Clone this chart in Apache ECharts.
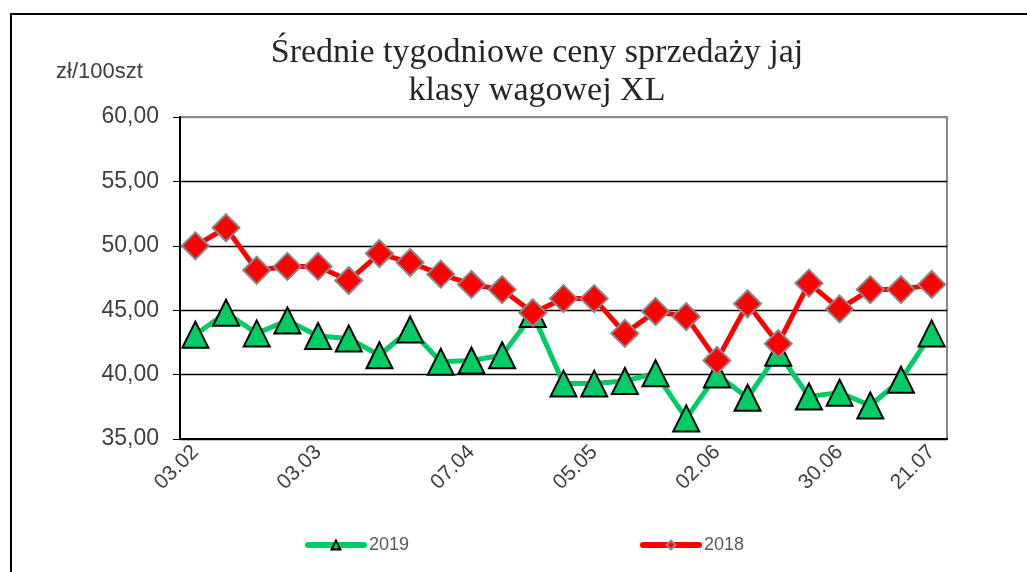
<!DOCTYPE html>
<html>
<head>
<meta charset="utf-8">
<script src="https://cdn.jsdelivr.net/npm/echarts@6/dist/echarts.min.js"></script>
<style>
  html, body { margin: 0; padding: 0; background: #fff; }
  #chart { width: 1027px; height: 572px; }
</style>
</head>
<body>
<div id="chart"></div>
<script>
// tygodnie (kategorie osi X)
var weeks = ['03.02', '10.02', '17.02', '24.02', '03.03', '10.03', '17.03', '24.03', '31.03',
  '07.04', '14.04', '21.04', '28.04', '05.05', '12.05', '19.05', '26.05', '02.06', '09.06',
  '16.06', '23.06', '30.06', '07.07', '14.07', '21.07'];
// które etykiety osi X są widoczne
var shownLabels = [0, 4, 9, 13, 17, 21, 24];

var prices2019 = [43.1, 44.8, 43.2, 44.2, 43.0, 42.8, 41.5, 43.5, 41.0, 41.1, 41.5, 44.7, 39.3,
  39.3, 39.5, 40.1, 36.6, 40.0, 38.2, 41.7, 38.3, 38.6, 37.6, 39.6, 43.2];
var prices2018 = [50.0, 51.4, 48.1, 48.4, 48.4, 47.3, 49.4, 48.7, 47.8, 47.0, 46.6, 44.8, 45.9,
  45.9, 43.2, 44.9, 44.5, 41.1, 45.5, 42.4, 47.1, 45.1, 46.6, 46.6, 47.0];

var chart = echarts.init(document.getElementById('chart'));

var legendText = { fontFamily: 'Liberation Sans', fontSize: 18, color: '#595959' };

var option = {
  animation: false,
  backgroundColor: '#fff',
  title: {
    text: 'Średnie tygodniowe ceny sprzedaży jaj\nklasy wagowej XL',
    left: 532,
    top: 29,
    textAlign: 'center',
    textStyle: {
      fontFamily: 'Liberation Serif',
      fontWeight: 'normal',
      fontSize: 34,
      lineHeight: 38,
      color: '#262626'
    }
  },
  graphic: [
    // ramka wykresu
    { type: 'polyline', shape: { points: [[11, 572], [11, 14], [1027, 14]] },
      style: { stroke: '#000', lineWidth: 2, fill: null } },
    { type: 'text', left: 56, top: 61,
      style: { text: 'zł/100szt', font: '22px "Liberation Sans"', fill: '#404040' } }
  ],
  legend: [
    {
      data: ['2019'], left: 305, top: 536, padding: 0,
      itemWidth: 56, itemHeight: 11, itemGap: 4,
      lineStyle: { width: 6, cap: 'round' },
      textStyle: legendText
    },
    {
      data: ['2018'], left: 640, top: 536, padding: 0,
      itemWidth: 56, itemHeight: 11, itemGap: 4,
      lineStyle: { width: 6, cap: 'round' },
      textStyle: legendText
    }
  ],
  grid: {
    left: 180, right: 80, top: 117, bottom: 133,
    show: true, borderColor: '#888', borderWidth: 2
  },
  xAxis: {
    type: 'category',
    data: weeks,
    boundaryGap: true,
    axisLine: { lineStyle: { color: '#000', width: 2 } },
    axisTick: { interval: 0, length: 7, lineStyle: { color: '#000' } },
    axisLabel: {
      interval: function (index) { return shownLabels.indexOf(index) >= 0; },
      rotate: 45,
      margin: 10,
      fontFamily: 'Liberation Sans',
      fontSize: 21,
      color: '#404040'
    }
  },
  yAxis: {
    type: 'value',
    min: 35, max: 60, interval: 5,
    axisLine: { show: true, lineStyle: { color: '#000', width: 2 } },
    axisTick: { show: true, length: 7, lineStyle: { color: '#000' } },
    axisLabel: {
      margin: 21,
      fontFamily: 'Liberation Sans',
      fontSize: 23,
      color: '#404040',
      formatter: function (v) { return v.toFixed(2).replace('.', ','); }
    },
    splitLine: { lineStyle: { color: ['#000', '#000', '#000', '#000', '#000', '#888'], width: 1.3 } }
  },
  series: [
    {
      name: '2019',
      type: 'line',
      data: prices2019,
      symbol: 'triangle',
      symbolSize: 26,
      showAllSymbol: true,
      lineStyle: { color: '#00CC66', width: 5 },
      itemStyle: { color: '#00CC66', borderColor: '#000', borderWidth: 2 },
      z: 2
    },
    {
      name: '2018',
      type: 'line',
      data: prices2018,
      symbol: 'diamond',
      symbolSize: 27,
      showAllSymbol: true,
      lineStyle: { color: '#FF0000', width: 5 },
      itemStyle: { color: '#FF0000', borderColor: '#888', borderWidth: 2 },
      z: 3
    }
  ]
};

chart.setOption(option);
</script>
</body>
</html>
